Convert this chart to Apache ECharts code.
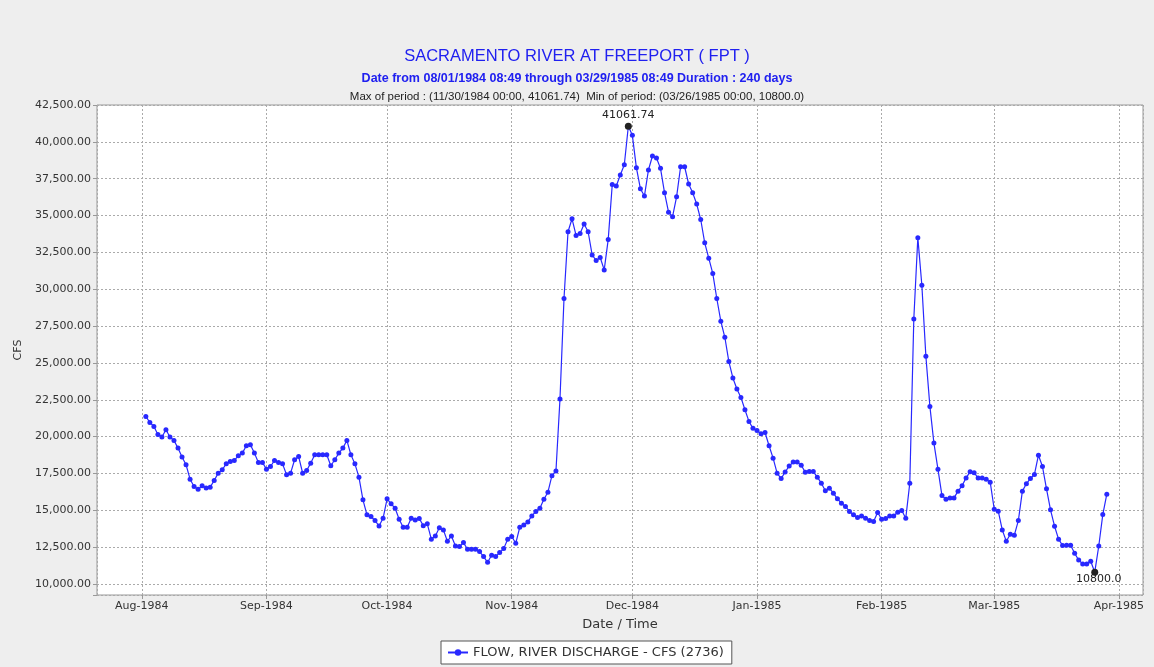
<!DOCTYPE html>
<html>
<head>
<meta charset="utf-8">
<title>Sacramento River at Freeport</title>
<script src="https://cdn.jsdelivr.net/npm/echarts@6/dist/echarts.min.js"></script>
<style>
  html, body { margin: 0; padding: 0; background: #eeeeee; }
  #chart { width: 1154px; height: 667px; }
</style>
</head>
<body>
<div id="chart"></div>
<script>
// daily flow (cfs), one value per day starting 08/02/1984
const aug84 = [21370, 20960, 20690, 20150, 19970, 20460, 19970, 19740, 19220, 18610, 18090, 17110, 16610, 16430, 16660,
  16520, 16570, 17020, 17520, 17750, 18150, 18310, 18380, 18700, 18880, 19380, 19450, 18880, 18240, 18240];
const sep84 = [17790, 17970, 18380, 18240, 18150, 17410, 17520, 18430, 18650, 17520, 17700, 18200, 18770, 18770, 18770,
  18770, 18020, 18430, 18880, 19220, 19740, 18770, 18150, 17250, 15710, 14690, 14580, 14300, 13940, 14460];
const oct84 = [15780, 15440, 15140, 14390, 13850, 13850, 14460, 14350, 14440, 13960, 14080, 13040, 13260, 13810, 13670,
  12900, 13260, 12580, 12540, 12810, 12360, 12360, 12360, 12200, 11860, 11470, 11950, 11860, 12130, 12400, 13040];
const nov84 = [13220, 12760, 13850, 14010, 14210, 14620, 14920, 15140, 15750, 16230, 17350, 17670, 22550, 29370, 33900,
  34780, 33650, 33780, 34420, 33900, 32330, 31950, 32150, 31310, 33380, 37110, 37000, 37750, 38450, 41061.74];
const dec84 = [40440, 38250, 36820, 36320, 38090, 39040, 38900, 38200, 36550, 35230, 34920, 36270, 38310, 38310, 37140,
  36550, 35780, 34730, 33150, 32110, 31070, 29370, 27830, 26740, 25090, 23980, 23230, 22660, 21820, 21030, 20560];
const jan85 = [20420, 20190, 20280, 19380, 18540, 17520, 17150, 17600, 18000, 18280, 18270, 18060, 17590, 17630, 17630,
  17250, 16840, 16320, 16500, 16160, 15780, 15480, 15260, 14920, 14690, 14510, 14620, 14460, 14300, 14240, 14850];
const feb85 = [14390, 14440, 14620, 14620, 14870, 14980, 14460, 16840, 27980, 33500, 30270, 25450, 22050, 19560, 17790,
  16000, 15750, 15840, 15840, 16300, 16660, 17200, 17610, 17540, 17200, 17200, 17110, 16910];
const mar85 = [15070, 14940, 13670, 12900, 13380, 13310, 14300, 16300, 16800, 17160, 17430, 18740, 17970, 16460, 15030,
  13920, 13040, 12610, 12630, 12630, 12080, 11630, 11360, 11360, 11540, 10800, 12580, 14710, 16090];

const monthNames = ['Jan', 'Feb', 'Mar', 'Apr', 'May', 'Jun', 'Jul', 'Aug', 'Sep', 'Oct', 'Nov', 'Dec'];
const seriesName = 'FLOW, RIVER DISCHARGE - CFS (2736)';
const titleText = 'SACRAMENTO RIVER AT FREEPORT ( FPT )';
const subText = 'Date from 08/01/1984 08:49 through 03/29/1985 08:49 Duration : 240 days';
const rangeText = 'Max of period : (11/30/1984 00:00, 41061.74)  Min of period: (03/26/1985 00:00, 10800.0)';

const flow = [].concat(aug84, sep84, oct84, nov84, dec84, jan85, feb85, mar85);
const seriesData = flow.map((v, i) => [new Date(1984, 7, 2 + i).getTime(), v]);

const DAY = 86400000;
const chart = echarts.init(document.getElementById('chart'));
chart.setOption({
  animation: false,
  backgroundColor: '#eeeeee',
  textStyle: { fontFamily: 'DejaVu Sans' },
  title: [
    { text: titleText, left: 'center', top: 43,
      textStyle: { fontFamily: 'Liberation Sans', fontSize: 16.5, fontWeight: 'normal', color: '#2020f0' } },
    { text: subText, left: 'center', top: 67,
      textStyle: { fontFamily: 'Liberation Sans', fontSize: 12.5, fontWeight: 'bold', color: '#2020f0' } },
    { text: rangeText, left: 'center', top: 86,
      textStyle: { fontFamily: 'Liberation Sans', fontSize: 11.5, fontWeight: 'normal', color: '#222' } }
  ],
  legend: {
    data: [seriesName],
    left: 441,
    bottom: 3,
    backgroundColor: '#fff',
    borderColor: '#555',
    borderWidth: 1,
    borderRadius: 0,
    padding: [5, 8, 5, 6],
    itemWidth: 20,
    itemHeight: 8,
    itemGap: 4,
    textStyle: { fontSize: 13, color: '#333' }
  },
  grid: {
    left: 97, right: 11, top: 105, bottom: 72,
    show: true, backgroundColor: '#fff', borderColor: '#999', borderWidth: 1
  },
  xAxis: {
    type: 'time',
    min: new Date(1984, 6, 20, 20, 30).getTime(),
    max: new Date(1985, 3, 7).getTime(),
    splitNumber: 9,
    minInterval: 28 * DAY,
    maxInterval: 31 * DAY,
    name: 'Date / Time',
    nameLocation: 'middle',
    nameGap: 23,
    nameTextStyle: { fontSize: 13, color: '#333' },
    axisLine: { show: false },
    axisTick: { show: true, length: 4, lineStyle: { color: '#999' } },
    axisLabel: {
      margin: 6, fontSize: 11, color: '#333', hideOverlap: false,
      formatter: v => {
        const d = new Date(v);
        if (d.getDate() !== 1 || d.getHours() !== 0) return '';
        return monthNames[d.getMonth()] + '-' + d.getFullYear();
      }
    },
    splitLine: { show: true, lineStyle: { color: '#aaa', type: [2, 2], width: 1 } }
  },
  yAxis: {
    type: 'value',
    min: 9253,
    max: 42500,
    minInterval: 2500,
    maxInterval: 2500,
    name: 'CFS',
    nameLocation: 'middle',
    nameGap: 63,
    nameTextStyle: { fontSize: 11, color: '#333' },
    axisLine: { show: false },
    axisTick: { show: true, length: 4, lineStyle: { color: '#999' } },
    axisLabel: {
      margin: 6, fontSize: 11, color: '#333',
      formatter: v => (v % 2500 === 0 ? v.toLocaleString('en-US', { minimumFractionDigits: 2, maximumFractionDigits: 2 }) : '')
    },
    splitLine: { show: true, lineStyle: { color: '#aaa', type: [2, 2], width: 1 } }
  },
  series: [{
    name: seriesName,
    type: 'line',
    data: seriesData,
    color: '#2828ff',
    lineStyle: { width: 1.2 },
    symbol: 'circle',
    symbolSize: 5,
    showAllSymbol: true,
    markPoint: {
      symbol: 'circle',
      symbolSize: 7,
      itemStyle: { color: '#222' },
      data: [
        { type: 'max', label: { position: 'top', distance: 2, formatter: p => p.value.toFixed(2) } },
        { type: 'min', label: { position: 'bottom', distance: 0, offset: [4, -2], formatter: p => p.value.toFixed(1) } }
      ],
      label: { show: true, color: '#222', fontSize: 11 }
    }
  }]
});
</script>
</body>
</html>
